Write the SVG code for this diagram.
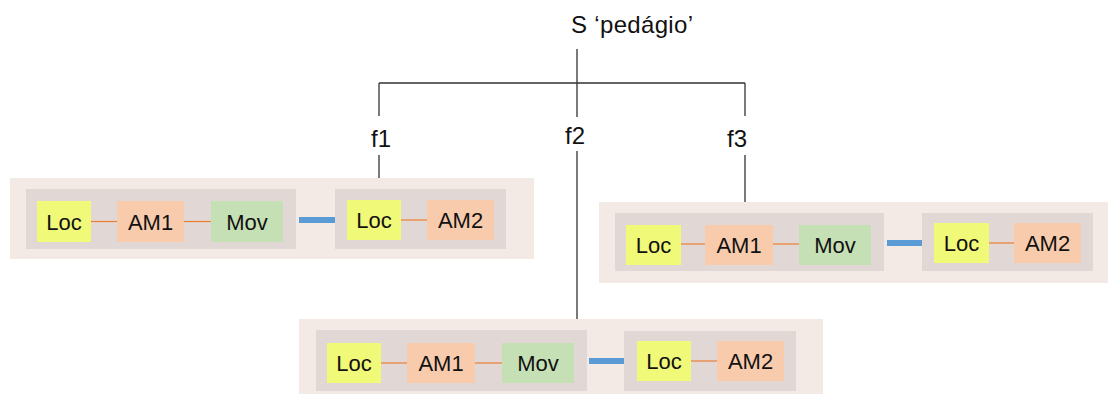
<svg xmlns="http://www.w3.org/2000/svg" width="1110" height="394" viewBox="0 0 1110 394">
<style>
.outer{fill:#F3EAE6}
.inner{fill:#E1D7D5}
.loc{fill:#F1F979}
.am{fill:#F8CBAD}
.mov{fill:#C6E0B5}
.blue{fill:#5B9BD5}
.ol{stroke:#ED7D31;stroke-width:1.2}
.tree{stroke:#333;stroke-width:1.3;fill:none}
text{font-family:"Liberation Sans",Arial,sans-serif;fill:#111}
.bt{font-size:22px;text-anchor:middle}
.lab{font-size:24px;text-anchor:middle}
</style>
<rect width="1110" height="394" fill="#fff"/>
<g id="connectors">
<path class="tree" d="M577 49V83M379 83H745M379 83V116M577 83V117M745 83V116"/>
<path class="tree" d="M379 155V178M577 151V319M745 155V202"/>
</g>
<g id="root"><text class="lab" x="632" y="33" textLength="122" lengthAdjust="spacing">S ‘pedágio’</text></g>
<g id="f1"><text class="lab" x="381" y="147">f1</text></g>
<g id="f2"><text class="lab" x="575" y="144">f2</text></g>
<g id="f3"><text class="lab" x="737" y="147">f3</text></g>

<g id="panel1">
<rect class="outer" x="10" y="178" width="524" height="81"/>
<rect class="inner" x="26" y="189" width="270" height="60"/>
<line class="ol" x1="91" y1="221.5" x2="117" y2="221.5"/>
<line class="ol" x1="184" y1="221.5" x2="211" y2="221.5"/>
<rect class="loc" x="37" y="201" width="54" height="41"/><text class="bt" x="64" y="229.5">Loc</text>
<rect class="am" x="117" y="201" width="67" height="41"/><text class="bt" x="150.5" y="229.5">AM1</text>
<rect class="mov" x="211" y="201" width="72" height="41"/><text class="bt" x="247" y="229.5">Mov</text>
<rect class="blue" x="299" y="217" width="36" height="6"/>
<rect class="inner" x="335" y="189" width="171" height="60"/>
<line class="ol" x1="401" y1="220" x2="427" y2="220"/>
<rect class="loc" x="347" y="200" width="54" height="40"/><text class="bt" x="374" y="228">Loc</text>
<rect class="am" x="427" y="200" width="67" height="40"/><text class="bt" x="460.5" y="228">AM2</text>
</g>

<g id="panel3">
<rect class="outer" x="599" y="202" width="509" height="81"/>
<rect class="inner" x="615" y="213" width="269" height="58"/>
<line class="ol" x1="681" y1="244" x2="705" y2="244"/>
<line class="ol" x1="773" y1="244" x2="799" y2="244"/>
<rect class="loc" x="626" y="225" width="55" height="40"/><text class="bt" x="653.5" y="253">Loc</text>
<rect class="am" x="705" y="225" width="68" height="40"/><text class="bt" x="739" y="253">AM1</text>
<rect class="mov" x="799" y="225" width="72" height="40"/><text class="bt" x="835" y="253">Mov</text>
<rect class="blue" x="887" y="240" width="35" height="6"/>
<rect class="inner" x="922" y="213" width="171" height="58"/>
<line class="ol" x1="989" y1="243" x2="1014" y2="243"/>
<rect class="loc" x="934" y="223" width="55" height="40"/><text class="bt" x="961.5" y="251">Loc</text>
<rect class="am" x="1014" y="223" width="67" height="40"/><text class="bt" x="1047.5" y="251">AM2</text>
</g>

<g id="panel2">
<rect class="outer" x="299" y="319" width="524" height="75"/>
<rect class="inner" x="316" y="330" width="271" height="61"/>
<line class="ol" x1="381" y1="363" x2="407" y2="363"/>
<line class="ol" x1="475" y1="363" x2="502" y2="363"/>
<rect class="loc" x="327" y="343" width="54" height="40"/><text class="bt" x="354" y="371">Loc</text>
<rect class="am" x="407" y="343" width="68" height="40"/><text class="bt" x="441" y="371">AM1</text>
<rect class="mov" x="502" y="343" width="72" height="40"/><text class="bt" x="538" y="371">Mov</text>
<rect class="blue" x="589" y="358" width="35" height="6"/>
<rect class="inner" x="624" y="331" width="172" height="60"/>
<line class="ol" x1="691" y1="361" x2="717" y2="361"/>
<rect class="loc" x="637" y="341" width="54" height="40"/><text class="bt" x="664" y="369">Loc</text>
<rect class="am" x="717" y="341" width="67" height="40"/><text class="bt" x="750.5" y="369">AM2</text>
</g>
</svg>
